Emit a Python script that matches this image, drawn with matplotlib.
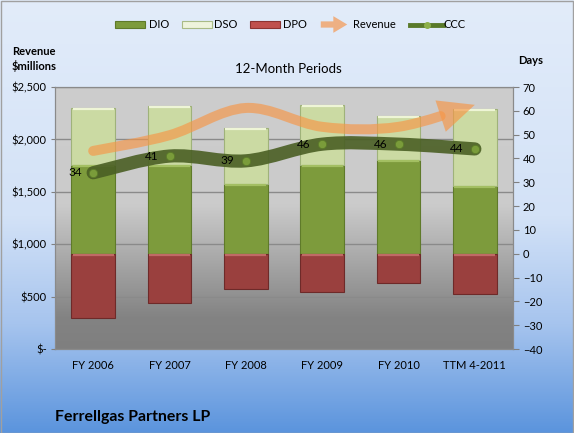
import numpy as np
import matplotlib
matplotlib.use("Agg")
import matplotlib.pyplot as plt
from matplotlib.path import Path
from matplotlib import patches
from matplotlib.transforms import IdentityTransform
from matplotlib.colors import LinearSegmentedColormap

plt.rcParams['font.family'] = ['Lato', 'DejaVu Sans']

# data
periods = ["FY 2006", "FY 2007", "FY 2008", "FY 2009", "FY 2010", "TTM 4-2011"]
dio = [37.4, 37.4, 29.4, 37.4, 39.5, 28.6]
dso = [23.9, 24.5, 23.4, 25.2, 18.5, 32.2]
dpo = [26.9, 20.6, 14.6, 16.1, 12.3, 16.9]
ccc = [34, 41, 39, 46, 46, 44]
revenue = [1890, 2040, 2300, 2120, 2120, 2330]

rev_ticks = [0, 500, 1000, 1500, 2000, 2500]
rev_labels = ["$-", "$500", "$1,000", "$1,500", "$2,000", "$2,500"]
day_ticks = list(range(-40, 71, 10))


def smooth_ctrl(xs, ys):
    # catmull-rom style smoothing like excel's smoothed line -> list of cubic segments
    pts = np.column_stack([xs, ys]).astype(float)
    ext = np.vstack([pts[0], pts, pts[-1]])
    segs = []
    for i in range(len(pts) - 1):
        p0, p1, p2, p3 = ext[i], ext[i + 1], ext[i + 2], ext[i + 3]
        segs.append([p1, p1 + (p2 - p0) / 6.0, p2 - (p3 - p1) / 6.0, p2])
    return segs


def segs_to_path(segs):
    verts = [segs[0][0]]
    codes = [Path.MOVETO]
    for s in segs:
        verts += [s[1], s[2], s[3]]
        codes += [Path.CURVE4] * 3
    return Path(verts, codes)


def bez_point(s, t):
    s = np.asarray(s)
    return ((1 - t) ** 3) * s[0] + 3 * ((1 - t) ** 2) * t * s[1] + 3 * (1 - t) * t * t * s[2] + t ** 3 * s[3]


def bez_split_left(s, t):
    p0, p1, p2, p3 = [np.asarray(p) for p in s]
    a = p0 + (p1 - p0) * t
    b = p1 + (p2 - p1) * t
    c = p2 + (p3 - p2) * t
    d = a + (b - a) * t
    e = b + (c - b) * t
    f = d + (e - d) * t
    return [p0, a, d, f]


fig = plt.figure(figsize=(5.74, 4.33), dpi=100)

# figure background gradient
bg = fig.add_axes([0, 0, 1, 1], zorder=-10)
bg_cmap = LinearSegmentedColormap.from_list(
    "bg", [(0.0, "#5b94dd"), (0.25, "#a6c4ee"), (0.5, "#d3e2f7"), (1.0, "#e2ecfa")])
bg.imshow(np.linspace(0, 1, 256).reshape(-1, 1), cmap=bg_cmap, aspect='auto',
          extent=(0, 1, 0, 1), origin='lower')
bg.set_xlim(0, 1)
bg.set_ylim(0, 1)
bg.axis('off')
bg.add_patch(patches.Rectangle((0.001, 0.001), 0.997, 0.997, fill=False,
                               edgecolor="#a0a0a0", lw=1, transform=bg.transAxes))

ax = fig.add_axes([55 / 574, 84 / 433, 458 / 574, 262 / 433])
ax.set_facecolor('none')
pa_cmap = LinearSegmentedColormap.from_list(
    "pa", [(0.0, "#7f7f7f"), (0.12, "#838383"), (0.55, "#cbcbcb"), (1.0, "#cdcdcd")])
ax.imshow(np.linspace(0, 1, 256).reshape(-1, 1), cmap=pa_cmap, aspect='auto',
          extent=(0, 1, 0, 1), origin='lower', transform=ax.transAxes, zorder=0)

x = np.arange(len(periods))
ax.set_xlim(-0.5, len(periods) - 0.5)
ax.set_ylim(0, 2500)
ax.set_yticks(rev_ticks)
ax.set_yticklabels(rev_labels)
ax.yaxis.grid(True, color="#8a8a8a", lw=1, zorder=1)
ax.set_axisbelow(True)
ax.set_xticks(x)
ax.set_xticklabels(periods)
ax.tick_params(axis='x', length=0, pad=8, labelsize=8)
ax.tick_params(axis='y', length=3, color="#808080", labelsize=8, pad=3)
for s in ax.spines.values():
    s.set_color("#8a8a8a")

axd = ax.twinx()
axd.set_ylim(-40, 70)
axd.set_yticks(day_ticks)
axd.tick_params(axis='y', length=4, color="#808080", labelsize=8, pad=3)
for s in axd.spines.values():
    s.set_color("#8a8a8a")

w = 0.575
dio_a = np.array(dio)
dso_a = np.array(dso)
dpo_a = np.array(dpo)
axd.bar(x, dio_a, w, color="#7d9b3c", edgecolor="#5f7a2a", lw=0.8, zorder=2)
axd.bar(x, dso_a, w, bottom=dio_a, color="#cbdaa3", edgecolor="#9fb27a", lw=0.8, zorder=2)
axd.bar(x, -dpo_a, w, color="#9a403e", edgecolor="#6e2a29", lw=0.8, zorder=2)
# light bevel along the top of each segment
axd.hlines(dio_a - 0.5, x - w / 2 + 0.02, x + w / 2 - 0.02, color="#a3bf62", lw=1.6, zorder=2.1)
axd.hlines(dio_a + dso_a - 0.5, x - w / 2 + 0.02, x + w / 2 - 0.02, color="#eef5d6", lw=1.6, zorder=2.1)
axd.hlines(np.full(len(x), -0.5), x - w / 2 + 0.02, x + w / 2 - 0.02, color="#c06a66", lw=1.6, zorder=2.1)

# revenue smoothed line, trimmed where the arrow head begins
rev_segs = smooth_ctrl(x, revenue)
last = rev_segs[-1]
tr = ax.transData
head_len, head_half = 36.0, 16.5
ts = np.linspace(0, 1, 2001)
disp = tr.transform(np.array([bez_point(last, t) for t in ts]))
tip = disp[-1]
dist = np.hypot(*(disp - tip).T)
t_cut = ts[np.argmin(np.abs(dist - head_len))]
line_segs = rev_segs[:-1] + [bez_split_left(last, t_cut)]
rev_color = "#f79646"
axd.add_patch(patches.PathPatch(segs_to_path(line_segs), facecolor='none', edgecolor=rev_color,
                                lw=7.2, alpha=0.65, capstyle='round', transform=tr, zorder=3))
base = tr.transform(bez_point(last, t_cut))
u = (tip - base) / np.hypot(*(tip - base))
perp = np.array([-u[1], u[0]])
head = patches.Polygon([tip, base + perp * head_half, base - perp * head_half], closed=True,
                       facecolor=rev_color, edgecolor='none', alpha=0.65,
                       transform=IdentityTransform(), zorder=3, clip_on=False)
axd.add_patch(head)

# cash conversion cycle
ccc_line = patches.PathPatch(segs_to_path(smooth_ctrl(x, ccc)), facecolor='none',
                             edgecolor="#4a5f24", lw=9.5, alpha=0.9,
                             capstyle='round', zorder=4)
axd.add_patch(ccc_line)
axd.plot(x, ccc, 'o', ms=6, color="#7a9c3a", mec="#5b7a2a", mew=0.6, zorder=5)
for xi, c in zip(x, ccc):
    axd.text(xi - 0.15, c, str(c), ha='right', va='center', fontsize=8.5,
             color="black", zorder=6)

# titles and axis captions
fig.text(288 / 574, 1 - 69 / 433, "12-Month Periods", ha='center', va='center', fontsize=9.5)
fig.text(34 / 574, 1 - 59 / 433, "Revenue\n$millions", ha='center', va='center',
         fontsize=8, fontweight='bold', linespacing=1.35)
fig.text(531 / 574, 1 - 60 / 433, "Days", ha='center', va='center',
         fontsize=8, fontweight='bold')
fig.text(55 / 574, 1 - 417 / 433, "Ferrellgas Partners LP", ha='left', va='center',
         fontsize=11.4, fontweight='bold')

# legend drawn by hand along the top
ly = 1 - 24.5 / 433
sw_h = 6 / 433
for x0, x1, tx, col, ec, label in [(115, 145, 149, "#7d9b3c", "#5f7a2a", "DIO"),
                                   (182, 212, 214, "#eef4dc", "#a9bb86", "DSO"),
                                   (250, 280, 283, "#c0504d", "#8c3331", "DPO")]:
    fig.patches.append(patches.Rectangle((x0 / 574, ly - sw_h / 2), (x1 - x0) / 574, sw_h,
                                         facecolor=col, edgecolor=ec, lw=0.8,
                                         transform=fig.transFigure))
    fig.text(tx / 574, ly, label, ha='left', va='center', fontsize=8)
fig.patches.append(patches.FancyArrowPatch((318 / 574, ly), (350 / 574, ly),
                                           arrowstyle="simple,head_length=1.0,head_width=1.2,tail_width=0.45",
                                           mutation_scale=10, lw=0, color="#eeb083",
                                           transform=fig.transFigure))
fig.text(353 / 574, ly, "Revenue", ha='left', va='center', fontsize=8)
fig.lines.append(plt.Line2D([410 / 574, 443 / 574], [ly, ly], lw=3.5, color="#5a7a2a",
                            transform=fig.transFigure))
fig.lines.append(plt.Line2D([427 / 574], [ly], marker='o', ms=4, color="#8db04a",
                            transform=fig.transFigure))
fig.text(444 / 574, ly, "CCC", ha='left', va='center', fontsize=8)

fig.savefig("out.png", dpi=100)
